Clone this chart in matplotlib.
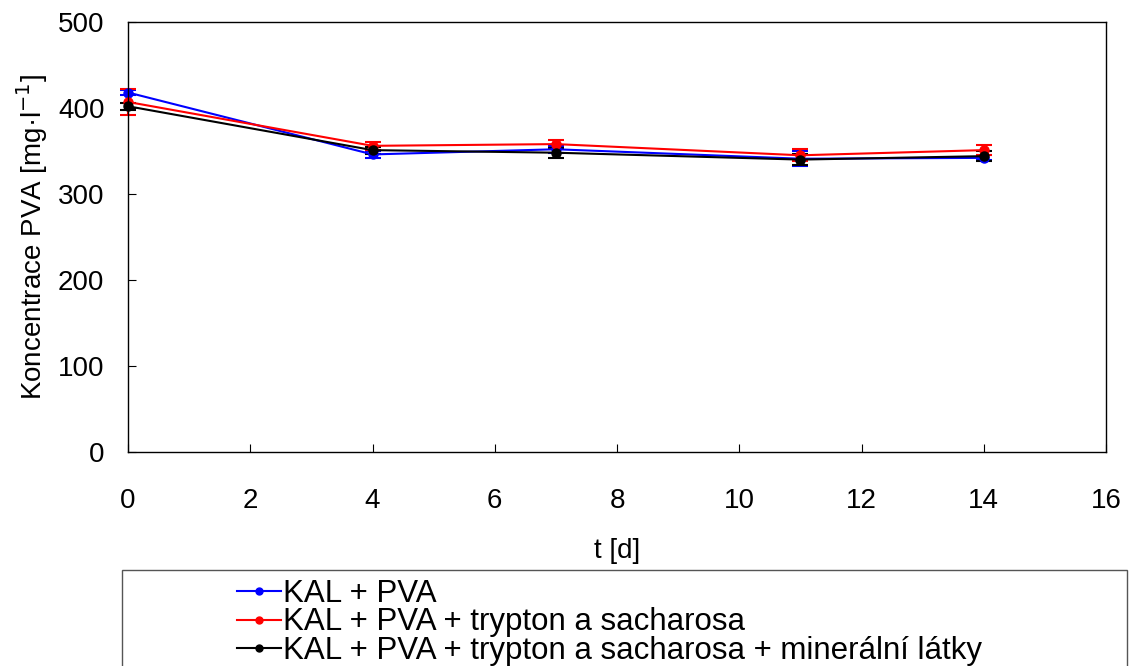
import numpy as np
import matplotlib.pyplot as plt
from matplotlib.patches import Rectangle
from matplotlib.lines import Line2D

plt.rcParams['font.family'] = ['Liberation Sans', 'DejaVu Sans']

t = [0, 4, 7, 11, 14]

kal_pva = [418, 346, 352, 341, 342]
kal_pva_err = [3, 4, 4, 9, 3]

kal_pva_ts = [407, 356, 358, 345, 351]
kal_pva_ts_err = [15, 5, 5, 7, 6]

kal_pva_ts_min = [402, 351, 348, 340, 344]
kal_pva_ts_min_err = [4, 4, 6, 6, 6]

labels = ['KAL + PVA',
          'KAL + PVA + trypton a sacharosa',
          'KAL + PVA + trypton a sacharosa + minerální látky']
colors = ['#0000ff', '#ff0000', '#000000']

fig = plt.figure(figsize=(11.3, 6.66), dpi=100)
ax = fig.add_axes([0.1133, 0.3213, 0.8655, 0.6457])

series = [(kal_pva, kal_pva_err), (kal_pva_ts, kal_pva_ts_err),
          (kal_pva_ts_min, kal_pva_ts_min_err)]
for (y, e), c in zip(series, colors):
    ax.errorbar(t, y, yerr=e, color=c, marker='o', markersize=6.5,
                linewidth=1.5, elinewidth=1.5, capsize=6, capthick=1.5,
                clip_on=False)

ax.set_xlim(0, 16)
ax.set_ylim(0, 500)
ax.set_xticks(np.arange(0, 17, 2))
ax.set_yticks(np.arange(0, 501, 100))
ax.tick_params(direction='in', length=6, labelsize=20)
ax.tick_params(axis='x', pad=26)
ax.tick_params(axis='y', pad=17)
for s in ax.spines.values():
    s.set_linewidth(1.0)

ax.set_xlabel('t [d]', fontsize=20, labelpad=17)
ax.set_ylabel('Koncentrace PVA [mg·l$^{-1}$]', fontsize=20, labelpad=6)

# legend frame running off the bottom of the figure
fig.patches.append(Rectangle((122 / 1130, -0.05), 1005 / 1130, 0.05 + 96 / 666,
                             transform=fig.transFigure, fill=False,
                             edgecolor='#555555', linewidth=1.0))
handles = [Line2D([], [], color=c, marker='o', markersize=5, linewidth=1.5)
           for c in colors]
fig.legend(handles=handles, labels=labels, loc='upper left',
           bbox_to_anchor=(237 / 1130, 1 - 579 / 666), frameon=False,
           fontsize=22.5, handlelength=1.4, handletextpad=0.08,
           labelspacing=-0.05, borderpad=0, borderaxespad=0)

fig.savefig('out.png', dpi=100)
